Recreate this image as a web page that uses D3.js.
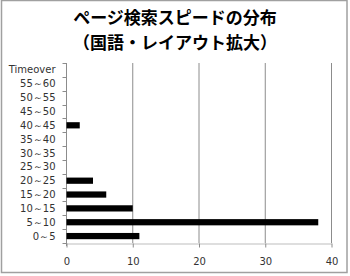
<!DOCTYPE html>
<html>
<head>
<meta charset="utf-8">
<script src="https://cdn.jsdelivr.net/npm/d3@7"></script>
<style>
  body { margin: 0; background: #fff; }
</style>
</head>
<body>
<svg id="chart" width="350" height="276"></svg>
<script>
// categories from top to bottom
const categories = ["Timeover", "55～60", "50～55", "45～50", "40～45", "35～40",
  "30～35", "25～30", "20～25", "15～20", "10～15", "5～10", "0～5"];
const counts = [0, 0, 0, 0, 2, 0, 0, 0, 4, 6, 10, 38, 11];
const xTicks = [0, 10, 20, 30, 40];
const titleLines = ["ページ検索スピードの分布", "（国語・レイアウト拡大）"];

const width = 350, height = 276;
const margin = { top: 63, right: 19, bottom: 33, left: 66 };

const svg = d3.select("#chart");

// outer frame
svg.append("rect")
  .attr("x", 1.5).attr("y", 0.5)
  .attr("width", 345.5).attr("height", 272)
  .attr("fill", "none")
  .attr("stroke", "#a0a0a0")
  .attr("stroke-width", 1.5);

// title
svg.append("g")
  .selectAll("text")
  .data(titleLines)
  .join("text")
  .attr("x", 175)
  .attr("y", (d, i) => 24 + i * 25)
  .attr("text-anchor", "middle")
  .style("font", "bold 17px 'Noto Sans CJK JP', sans-serif")
  .attr("fill", "#000")
  .text(d => d);

const scaleX = d3.scaleLinear()
  .domain([0, 40])
  .range([margin.left, width - margin.right]);

const scaleY = d3.scaleBand()
  .domain(categories)
  .range([margin.top, height - margin.bottom])
  .paddingInner(0.55)
  .paddingOuter(0.275);

// grid lines
svg.append("g")
  .selectAll("line")
  .data(xTicks.slice(1))
  .join("line")
  .attr("x1", d => scaleX(d) + 0.5)
  .attr("x2", d => scaleX(d) + 0.5)
  .attr("y1", margin.top)
  .attr("y2", height - margin.bottom)
  .attr("stroke", "#8c8c8c");

// x axis
svg.append("g")
  .attr("transform", `translate(0.5,${height - margin.bottom + 0.5})`)
  .call(d3.axisBottom(scaleX).tickValues(xTicks).tickSize(4).tickSizeOuter(0).tickPadding(10))
  .call(g => g.select(".domain").attr("stroke", "#bdbdbd"))
  .call(g => g.selectAll(".tick line").attr("stroke", "#8c8c8c"))
  .call(g => g.selectAll("text")
    .style("font", "10px 'DejaVu Sans', sans-serif")
    .attr("fill", "#333"));

// y axis
const yAxis = svg.append("g")
  .attr("transform", `translate(${margin.left + 0.5},0)`);
yAxis.append("line")
  .attr("y1", margin.top).attr("y2", height - margin.bottom + 3)
  .attr("stroke", "#8c8c8c");
yAxis.selectAll(".tk")
  .data(d3.range(categories.length + 1))
  .join("line")
  .attr("x1", -4).attr("x2", 0)
  .attr("y1", i => Math.round(margin.top + i * (height - margin.bottom - margin.top) / categories.length) + 0.5)
  .attr("y2", i => Math.round(margin.top + i * (height - margin.bottom - margin.top) / categories.length) + 0.5)
  .attr("stroke", "#8c8c8c");
yAxis.selectAll("text")
  .data(categories)
  .join("text")
  .attr("x", -11)
  .attr("y", d => scaleY(d) + scaleY.bandwidth() / 2)
  .attr("dy", "0.35em")
  .attr("text-anchor", "end")
  .style("font", "10px 'DejaVu Sans', sans-serif")
  .attr("fill", "#333")
  .text(d => d);

// bars
svg.append("g")
  .selectAll("rect")
  .data(categories.map((c, i) => ({ c, v: counts[i] })).filter(d => d.v > 0))
  .join("rect")
  .attr("x", scaleX(0) + 0.5)
  .attr("y", d => scaleY(d.c))
  .attr("width", d => scaleX(d.v) - scaleX(0))
  .attr("height", scaleY.bandwidth())
  .attr("fill", "#000");
</script>
</body>
</html>
